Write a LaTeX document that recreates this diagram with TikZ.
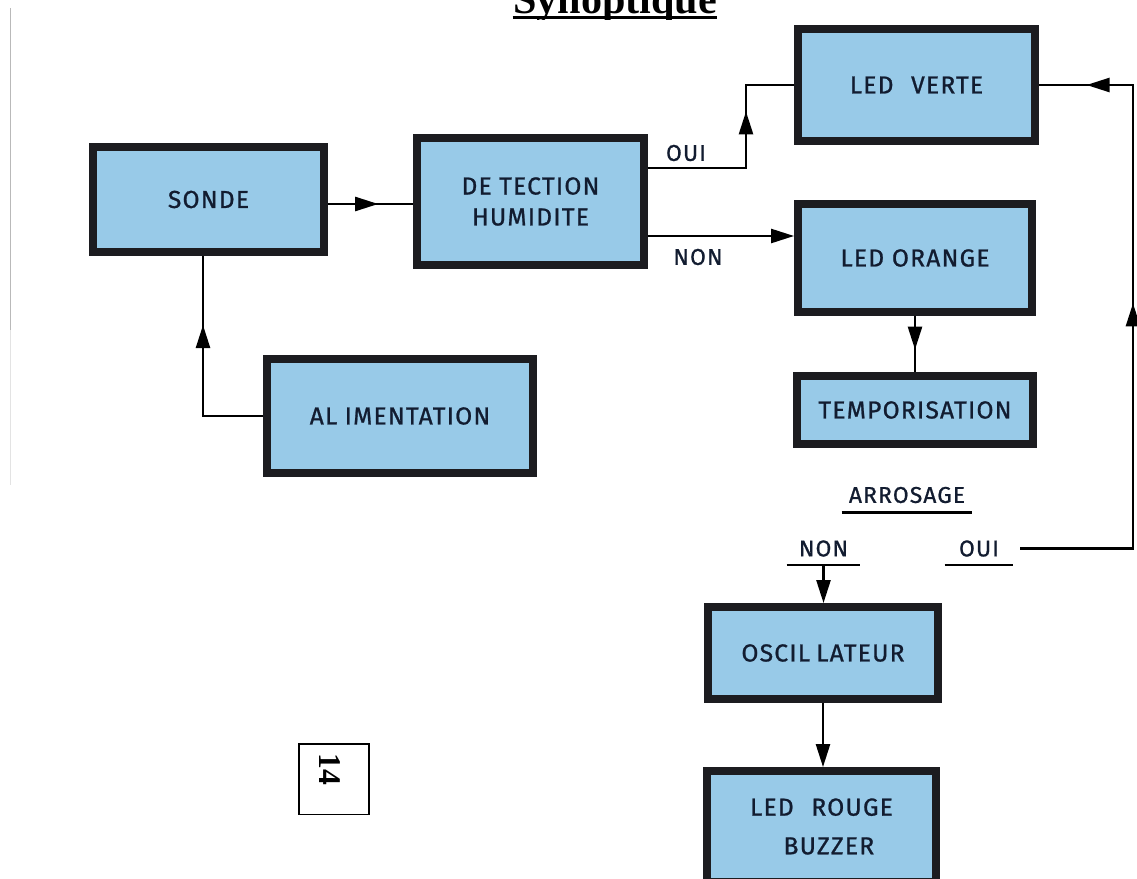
\documentclass[tikz,border=0pt]{standalone}
\usepackage{fontspec}
\setmainfont{Liberation Serif}
\newfontfamily\boxfont{Fira Sans}[LetterSpace=5, FakeBold=0.9]
\usetikzlibrary{arrows.meta,decorations.markings,calc}
\definecolor{boxfill}{RGB}{152,202,232}
\definecolor{boxline}{RGB}{28,28,32}
\definecolor{boxtext}{RGB}{18,28,48}
\tikzset{
  blk/.style={draw=boxline, line width=4.5pt, fill=boxfill, text=boxtext,
    font=\boxfont\fontsize{14}{17.6}\selectfont, align=center, inner sep=0pt},
  conn/.style={line width=1.4pt, draw=black},
  tipend/.style={-{Triangle[length=0.46cm,width=0.28cm]}},
  midtip/.style={postaction={decorate, decoration={markings,
      mark=at position #1 with {\arrow{Triangle[length=0.46cm,width=0.28cm]}}}}},
  lbl/.style={text=boxtext, font=\boxfont\fontsize{13}{15}\selectfont, inner xsep=0pt},
  uline/.style={line width=1.3pt, draw=black},
}
\begin{document}
\begin{tikzpicture}[x=0.02cm,y=-0.02cm]
\useasboundingbox (0,0) rectangle (1137,879);

% scan edge
\draw[gray!55, line width=0.6pt] (10.5,8) -- (10.5,330);
\draw[gray!22, line width=0.5pt] (10.5,330) -- (10.5,485);

% title
\begin{scope}
  \clip (400,-20) rectangle (830,19.5);
  \node[anchor=base, inner sep=0pt, font=\bfseries\fontsize{24}{28}\selectfont] (title) at (615,13) {Synoptique};
\end{scope}
\draw[line width=1.7pt] ([yshift=-0.09cm]title.base west) -- ([yshift=-0.09cm]title.base east);

% blocks
\node[blk, minimum width=4.62cm, minimum height=2.10cm] (sonde) at (208.5,199.5) {SONDE};
\node[blk, minimum width=4.54cm, minimum height=2.54cm] (det) at (530.5,201.5) {DE\kern.3em TECTION\\HUMIDITE};
\node[blk, minimum width=4.74cm, minimum height=2.24cm] (verte) at (916.5,85) {LED \hspace{0.4em}VERTE};
\node[blk, minimum width=4.68cm, minimum height=2.16cm] (orange) at (915,258) {LED ORANGE};
\node[blk, minimum width=4.72cm, minimum height=1.36cm] (temp) at (915,410) {TEMPORISATION};
\node[blk, minimum width=5.32cm, minimum height=2.28cm] (alim) at (400,416) {AL\kern.3em IMENTATION};
\node[blk, minimum width=4.60cm, minimum height=1.84cm] (osc) at (823,653) {OSCIL\kern.25em LATEUR};
\node[blk, minimum width=4.58cm, minimum height=2.22cm] (rouge) at (821.5,826.5) {LED \hspace{0.4em}ROUGE\\[4.4pt]\hspace*{0.6em}BUZZER};

% labels
\node[lbl] (ouiA) at (686,153) {OUI};
\node[lbl] (nonA) at (698,257) {NON};
\node[lbl, minimum width=2.6cm, inner ysep=0.18cm] (arr) at (907,495) {ARROSAGE};
\draw[uline] (arr.south west) -- (arr.south east);
\node[lbl, minimum width=1.46cm, inner ysep=0.16cm] (non) at (823.5,548.5) {NON};
\draw[uline] (non.south west) -- (non.south east);
\node[lbl, minimum width=1.36cm, inner ysep=0.16cm] (oui) at (979,548.5) {OUI};
\draw[uline] (oui.south west) -- (oui.south east);

% page number box
\node[draw, line width=0.85pt, fill=white, minimum size=1.41cm, inner sep=0pt] (pg) at (334,779) {};
\node[rotate=-90, inner sep=0pt, font=\bfseries\fontsize{18}{20}\selectfont] (pgnum) at (330,769) {14};

% connectors
\coordinate (c0) at (370,204);
\draw[conn, midtip=0.59] (c0 -| sonde.east) -- (c0 -| det.west);
\coordinate (ca) at (203,300);
\draw[conn, midtip=0.686] (alim.west) -| (ca |- sonde.south);
\coordinate (c1) at (746,168);
\draw[conn, midtip=0.675] (c1 -| det.east) -- (c1) -- (c1 |- verte.west) -- (verte.west);
\coordinate (c2) at (700,236);
\draw[conn, tipend] (c2 -| det.east) -- (c2 -| orange.west);
\draw[conn, midtip=0.6] (orange.south) -- (temp.north);
\draw[conn, tipend] (non.south) -- (non.south |- osc.north);
\coordinate (rc) at (1133,85);
\coordinate (oe) at ([xshift=0.14cm]oui.east);
\draw[conn, midtip=0.534, midtip=0.929] (oe) -- (oe -| rc) -- (rc) -- (verte.east);
\draw[conn, tipend] (osc.south) -- (osc.south |- rouge.north);
\end{tikzpicture}
\end{document}
